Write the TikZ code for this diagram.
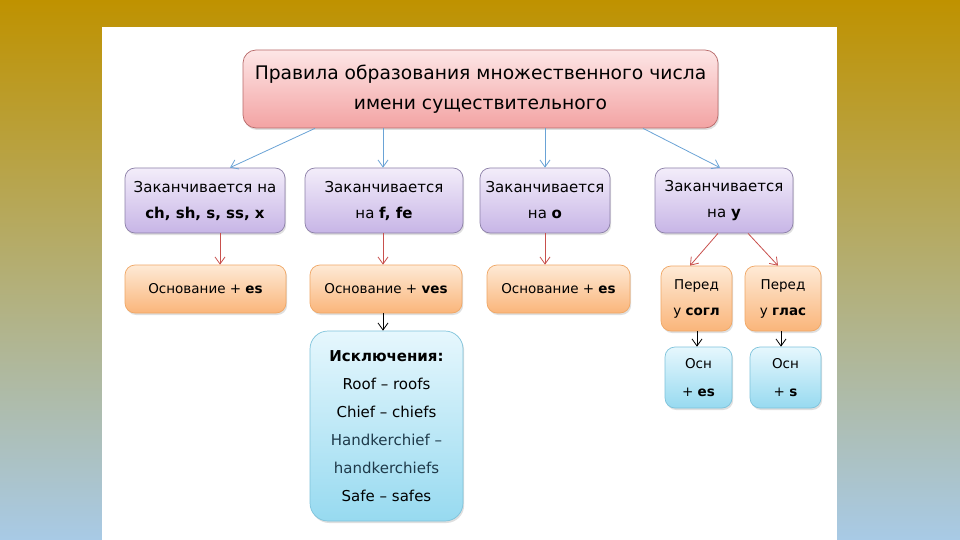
\documentclass[tikz,border=0pt]{standalone}
\usepackage{fontspec}
\setmainfont{DejaVu Sans}
\usetikzlibrary{arrows.meta,shadows}
\definecolor{bggold}{HTML}{BF9200}
\definecolor{bgmid}{HTML}{B8B07E}
\definecolor{bgblue}{HTML}{A8CAE6}
\definecolor{pinktop}{HTML}{FDE6E6}
\definecolor{pinkbot}{HTML}{F3A3A3}
\definecolor{pinkline}{HTML}{B86A6A}
\definecolor{purtop}{HTML}{F3EDFA}
\definecolor{purbot}{HTML}{C7B5E6}
\definecolor{purline}{HTML}{8C80A8}
\definecolor{ortop}{HTML}{FEEAD6}
\definecolor{orbot}{HTML}{FAB57A}
\definecolor{orline}{HTML}{F0A765}
\definecolor{bltop}{HTML}{E6F7FD}
\definecolor{blbot}{HTML}{97DAF0}
\definecolor{blline}{HTML}{7EC3DB}
\definecolor{arrblue}{HTML}{6AA3D6}
\definecolor{arrred}{HTML}{C8504D}
\definecolor{handk}{HTML}{1F3A4A}
\tikzset{
  card/.style={rounded corners=10pt, align=center, inner sep=2pt, line width=0.7pt,
    drop shadow={opacity=0.25, shadow xshift=1.2pt, shadow yshift=-2pt}},
  titlebox/.style={card, rounded corners=13pt, draw=pinkline, top color=pinktop, bottom color=pinkbot,
    font=\fontsize{18.7}{30}\selectfont},
  purbox/.style={card, draw=purline, top color=purtop, bottom color=purbot,
    font=\fontsize{15}{26}\selectfont},
  orbox/.style={card, draw=orline, top color=ortop, bottom color=orbot,
    font=\fontsize{13.5}{26}\selectfont},
  blbox/.style={card, draw=blline, top color=bltop, bottom color=blbot,
    font=\fontsize{13.5}{28}\selectfont},
  bluearr/.style={draw=arrblue, line width=0.8pt, -{Straight Barb[length=7pt,width=10pt]}},
  redarr/.style={draw=arrred, line width=0.8pt, -{Straight Barb[length=7pt,width=10pt]}},
  blackarr/.style={draw=black, line width=0.8pt, -{Straight Barb[length=7pt,width=10pt]}}
}
\begin{document}
\begin{tikzpicture}[x=1pt,y=-1pt]
\useasboundingbox (0,0) rectangle (960,540);
\shade[top color=bggold, middle color=bgmid, bottom color=bgblue] (0,0) rectangle (960,540);
\fill[white] (102,27) rectangle (837,540);

\node[titlebox, minimum width=475pt, minimum height=78pt] (title) at (480.5,89)
  {Правила образования множественного числа\\имени существительного};

\node[purbox, minimum width=160pt, minimum height=65pt] (A) at (205,200.5)
  {Заканчивается на\\\textbf{ch, sh, s, ss, x}};
\node[purbox, minimum width=158pt, minimum height=65pt] (B) at (384,200.5)
  {Заканчивается\\на \textbf{f, fe}};
\node[purbox, minimum width=130pt, minimum height=65pt] (C) at (545,200.5)
  {Заканчивается\\на \textbf{o}};
\node[purbox, minimum width=138pt, minimum height=65pt] (D) at (724,200.5)
  {Заканчивается\\на \textbf{y}};

\node[orbox, minimum width=161pt, minimum height=48pt] (A2) at (205.5,289)
  {Основание + \textbf{es}};
\node[orbox, minimum width=152pt, minimum height=48pt] (B2) at (386,289)
  {Основание + \textbf{ves}};
\node[orbox, minimum width=143pt, minimum height=48pt] (C2) at (558.5,289)
  {Основание + \textbf{es}};
\node[orbox, minimum width=71pt, minimum height=65pt] (D1) at (696.5,298.5)
  {Перед\\у \textbf{согл}};
\node[orbox, minimum width=76pt, minimum height=65pt] (D2) at (783,298.5)
  {Перед\\у \textbf{глас}};

\node[blbox, font=\fontsize{15}{28}\selectfont, rounded corners=18pt, minimum width=153pt, minimum height=190pt] (X) at (386.5,426)
  {\textbf{Исключения:}\\Roof – roofs\\Chief – chiefs\\\textcolor{handk}{Handkerchief –}\\\textcolor{handk}{handkerchiefs}\\Safe – safes};
\node[blbox, minimum width=67pt, minimum height=61pt] (E1) at (698.5,377.5)
  {Осн\\+ \textbf{es}};
\node[blbox, minimum width=71pt, minimum height=61pt] (E2) at (785.5,377.5)
  {Осн\\+ \textbf{s}};

\draw[bluearr] (title.south -| 315,0) -- (A.north -| 230,0);
\draw[bluearr] (title.south -| 383,0) -- (B.north -| 383,0);
\draw[bluearr] (title.south -| C.north) -- (C.north);
\draw[bluearr] (title.south -| 643,0) -- (D.north -| 720,0);

\draw[redarr] (A.south -| 220,0) -- (A2.north -| 220,0);
\draw[redarr] (B.south -| 383,0) -- (B2.north -| 383,0);
\draw[redarr] (C.south) -- (C.south |- C2.north);
\draw[redarr] (D.south -| 718,0) -- (D1.north -| 690,0);
\draw[redarr] (D.south -| 748,0) -- (D2.north -| 778,0);

\draw[blackarr] (B2.south -| 383,0) -- (X.north -| 383,0);
\draw[blackarr] (D1.south -| 697,0) -- (E1.north -| 697,0);
\draw[blackarr] (D2.south -| 781,0) -- (E2.north -| 781,0);
\end{tikzpicture}
\end{document}
